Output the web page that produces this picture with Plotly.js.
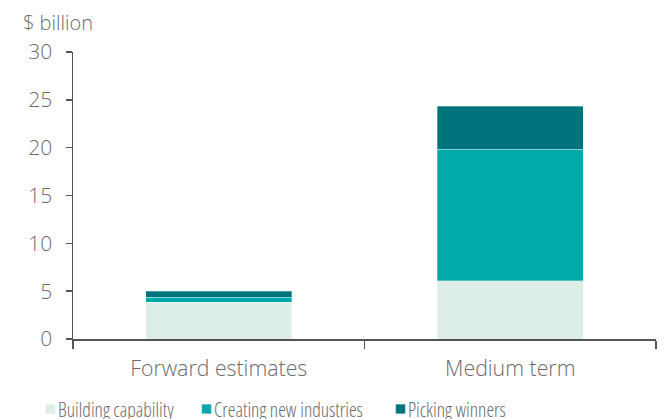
<!DOCTYPE html>
<html>
<head>
<meta charset="utf-8">
<script src="https://cdn.plot.ly/plotly-3.0.1.min.js"></script>
<style>
html,body{margin:0;padding:0;background:#fff;}
#chart{width:664px;height:419px;}
</style>
</head>
<body>
<div id="chart"></div>
<script>
const categories = ["Forward estimates", "Medium term"];
const buildingCapability = [3.83, 6.09];
const creatingNewIndustries = [0.55, 13.76];
const pickingWinners = [0.6, 4.5];
const seriesNames = ["Building capability", "Creating new industries", "Picking winners"];
const yTicks = [0, 5, 10, 15, 20, 25, 30];

const colors = ["#DDEEE8", "#00AAAA", "#00747C"];
const fontFam = "'Open Sans', 'Noto Sans', sans-serif";
const grey = "#6b6b6b";
const legendIds = ["legend", "legend2", "legend3"];
const legendX = [-0.0943, 0.1733, 0.506];

const data = [buildingCapability, creatingNewIndustries, pickingWinners].map((vals, i) => ({
  type: "bar",
  x: categories,
  y: vals,
  name: seriesNames[i],
  legend: legendIds[i],
  marker: {color: colors[i], line: {color: "rgba(255,255,255,0.6)", width: 0.5}},
  width: 0.5,
  hoverinfo: "none"
}));

const layout = {
  width: 664, height: 419,
  margin: {l: 73, r: 8, t: 52, b: 80, autoexpand: false},
  barmode: "stack",
  paper_bgcolor: "#fff",
  plot_bgcolor: "#fff",
  font: {family: fontFam, size: 19, color: grey, weight: 300},
  showlegend: true,
  xaxis: {
    type: "category",
    range: [-0.5, 1.5],
    showline: true, linecolor: "#555555", linewidth: 2,
    ticks: "outside", tickson: "boundaries", ticklen: 8, tickcolor: "#555555", tickwidth: 1.5,
    ticklabelstandoff: 9,
    tickfont: {family: fontFam, size: 21.3, color: grey, weight: 300},
    showgrid: false, zeroline: false, fixedrange: true
  },
  yaxis: {
    range: [0, 30],
    tickvals: yTicks,
    ticktext: yTicks.map(String),
    showline: true, linecolor: "#555555", linewidth: 1.5,
    ticks: "outside", ticklen: 6, tickcolor: "#555555", tickwidth: 1.5,
    ticklabelstandoff: 9,
    tickfont: {family: fontFam, size: 21, color: grey, weight: 300},
    showgrid: false, zeroline: false, fixedrange: true
  },
  annotations: [{
    text: "$ billion",
    xref: "paper", yref: "paper",
    x: -0.09, y: 1.0, xanchor: "left", yanchor: "bottom",
    yshift: 14,
    showarrow: false,
    font: {family: fontFam, size: 20, color: grey, weight: 300}
  }]
};
legendIds.forEach((id, i) => {
  layout[id] = {
    orientation: "h",
    x: legendX[i], xanchor: "left",
    y: -0.245, yanchor: "middle",
    font: {family: fontFam, size: 19.5, color: grey, weight: 300},
    itemwidth: 30,
    bgcolor: "rgba(0,0,0,0)"
  };
});

Plotly.newPlot("chart", data, layout, {staticPlot: true, displayModeBar: false}).then(gd => {
  gd.querySelectorAll("g.traces text").forEach(t => {
    t.style.fontStretch = "80%";
  });
  gd.querySelectorAll(".legendpoints path").forEach(p => {
    p.setAttribute("transform", "translate(32.5,0) scale(0.8)");
  });
});
</script>
</body>
</html>
